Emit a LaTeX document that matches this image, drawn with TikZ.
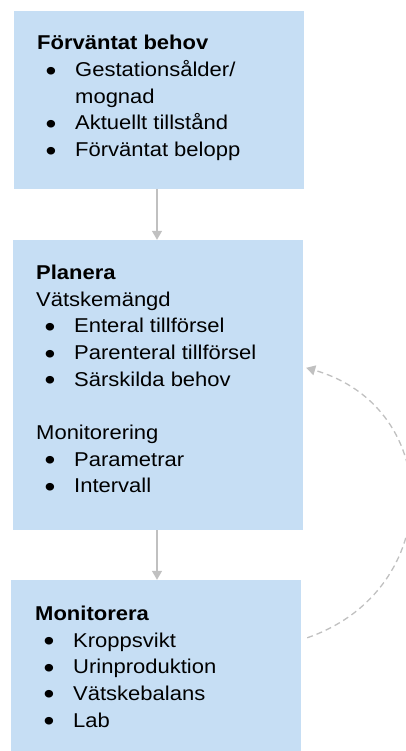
\documentclass[tikz,border=0pt]{standalone}
\usepackage{fontspec}
\setmainfont{Liberation Sans}[FakeStretch=1.1]
\usetikzlibrary{arrows.meta}
\definecolor{boxblue}{RGB}{198,222,244}
\definecolor{arrgray}{RGB}{192,192,192}
\newcommand{\bigbul}{\llap{\makebox[29.5pt][l]{\raisebox{-3.8pt}{\scalebox{1.4}{\textbullet}}}}}
\tikzset{
  box/.style={fill=boxblue, draw=none, inner sep=0pt},
  txt/.style={anchor=base west, inner sep=0pt, font=\fontsize{20}{24}\selectfont},
  ttl/.style={txt, font=\fontsize{20}{24}\selectfont\bfseries},
  itm/.style={txt, execute at begin node={\bigbul}},
  arr/.style={draw=arrgray, line width=1.3pt, -{Triangle[width=10pt,length=9pt]}},
  darr/.style={draw=arrgray, line width=1.3pt, dash pattern=on 6pt off 4pt, -{Triangle[width=10pt,length=9pt]}},
}
\begin{document}
\begin{tikzpicture}[x=1pt,y=-1pt]
\useasboundingbox (0,0) rectangle (405,751);
% boxes
\node[box, minimum width=290pt, minimum height=178pt] (b1) at (159,100) {};
\node[box, minimum width=290pt, minimum height=290pt] (b2) at (158,385) {};
\node[box, minimum width=290pt, minimum height=171pt] (b3) at (156,665.5) {};
% box 1
\node[ttl] (b1t) at (37,50) {Förväntat behov};
\node[itm] (b1a) at (75,76.7) {Gestationsålder/};
\node[txt] (b1b) at (75,103.4) {mognad};
\node[itm] (b1c) at (75,130) {Aktuellt tillstånd};
\node[itm] (b1d) at (75,156.8) {Förväntat belopp};
% box 2
\node[ttl] (b2t) at (36,279) {Planera};
\node[txt] (b2s1) at (36,306) {Vätskemängd};
\node[itm] (b2a) at (74,332.7) {Enteral tillförsel};
\node[itm] (b2b) at (74,359.3) {Parenteral tillförsel};
\node[itm] (b2c) at (74,386) {Särskilda behov};
\node[txt] (b2s2) at (36,439) {Monitorering};
\node[itm] (b2d) at (74,466) {Parametrar};
\node[itm] (b2e) at (74,492.6) {Intervall};
% box 3
\node[ttl] (b3t) at (35,620) {Monitorera};
\node[itm] (b3a) at (73,647) {Kroppsvikt};
\node[itm] (b3b) at (73,673.5) {Urinproduktion};
\node[itm] (b3c) at (73,700) {Vätskebalans};
\node[itm] (b3d) at (73,727) {Lab};
% connectors
\draw[arr] ([xshift=-2pt]b1.south) -- ([xshift=-2pt]b1.south |- b2.north);
\draw[arr] ([xshift=-1pt]b2.south) -- ([xshift=-1pt]b2.south |- b3.north);
\coordinate (cs) at ([shift={(6pt,-58pt)}]b3.north east);
\coordinate (ce) at ([shift={(3pt,-128pt)}]b2.north east);
\draw[darr] (cs) .. controls (445,590) and (445,408) .. (ce);
\end{tikzpicture}
\end{document}
